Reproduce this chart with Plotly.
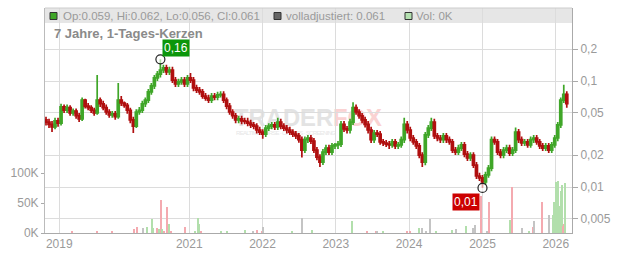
import base64
import math
import pandas as pd
import plotly.graph_objects as go

# ---------------- data ----------------
start_date = "2019-01-18"          # first candle (15-day aggregated candles)
first_open = 0.043

close = [0.041, 0.039, 0.0368, 0.042, 0.040, 0.057, 0.053, 0.056, 0.050, 0.052,
         0.047, 0.044, 0.066, 0.058, 0.056, 0.053, 0.050, 0.066, 0.061, 0.056,
         0.051, 0.048, 0.049, 0.046, 0.066, 0.062, 0.059, 0.053, 0.043, 0.0376,
         0.051, 0.053, 0.061, 0.066, 0.079, 0.090, 0.107, 0.116, 0.127, 0.133,
         0.122, 0.127, 0.102, 0.094, 0.098, 0.102, 0.094, 0.107, 0.102, 0.086,
         0.082, 0.079, 0.072, 0.069, 0.066, 0.072, 0.0706, 0.074, 0.075, 0.066,
         0.058, 0.051, 0.047, 0.043, 0.044, 0.042, 0.0415, 0.040, 0.0385, 0.0376,
         0.0345, 0.033, 0.0316, 0.036, 0.0376, 0.0385, 0.0368, 0.041, 0.0376, 0.036,
         0.0345, 0.033, 0.0316, 0.0303, 0.028, 0.0223, 0.028, 0.029, 0.0271, 0.0223,
         0.0191, 0.0172, 0.0213, 0.0233, 0.0213, 0.0244, 0.0250, 0.0254, 0.039, 0.0353,
         0.0345, 0.041, 0.056, 0.051, 0.047, 0.043, 0.039, 0.0345, 0.028, 0.0323,
         0.0316, 0.0266, 0.026, 0.0254, 0.025, 0.0266, 0.0244, 0.025, 0.028, 0.039,
         0.0345, 0.029, 0.0266, 0.0244, 0.020, 0.0172, 0.031, 0.036, 0.041, 0.0303,
         0.029, 0.028, 0.0303, 0.028, 0.0266, 0.0223, 0.0213, 0.0233, 0.025, 0.0204,
         0.0188, 0.020, 0.0161, 0.0127, 0.0122, 0.0112, 0.013, 0.0151, 0.028, 0.0266,
         0.0213, 0.020, 0.0223, 0.0233, 0.0209, 0.0223, 0.033, 0.028, 0.026, 0.0266,
         0.025, 0.028, 0.029, 0.0266, 0.0244, 0.0233, 0.0244, 0.0223, 0.025, 0.029,
         0.0385, 0.066, 0.075, 0.061]

high = [0.046, 0.044, 0.042, 0.045, 0.045, 0.061, 0.060, 0.060, 0.059, 0.055,
        0.055, 0.050, 0.070, 0.068, 0.062, 0.059, 0.056, 0.114, 0.070, 0.065,
        0.060, 0.054, 0.052, 0.052, 0.096, 0.072, 0.064, 0.062, 0.056, 0.046,
        0.054, 0.057, 0.065, 0.070, 0.084, 0.096, 0.114, 0.124, 0.160, 0.142,
        0.142, 0.136, 0.136, 0.109, 0.105, 0.109, 0.109, 0.114, 0.119, 0.109,
        0.092, 0.088, 0.084, 0.077, 0.074, 0.077, 0.077, 0.079, 0.080, 0.080,
        0.070, 0.062, 0.054, 0.050, 0.047, 0.047, 0.045, 0.045, 0.043, 0.041,
        0.040, 0.037, 0.035, 0.0385, 0.040, 0.041, 0.041, 0.045, 0.044, 0.040,
        0.0385, 0.037, 0.035, 0.0337, 0.0323, 0.030, 0.030, 0.031, 0.031, 0.029,
        0.0238, 0.0204, 0.0228, 0.025, 0.025, 0.026, 0.026, 0.0271, 0.042, 0.042,
        0.0376, 0.044, 0.063, 0.060, 0.054, 0.050, 0.046, 0.042, 0.037, 0.0345,
        0.0345, 0.0337, 0.0284, 0.0277, 0.0271, 0.0284, 0.0284, 0.0266, 0.030, 0.045,
        0.042, 0.037, 0.031, 0.0284, 0.026, 0.0213, 0.033, 0.0385, 0.045, 0.044,
        0.0323, 0.031, 0.0323, 0.0323, 0.030, 0.0284, 0.0238, 0.025, 0.0266, 0.0266,
        0.0218, 0.0213, 0.0213, 0.0172, 0.0136, 0.013, 0.0139, 0.0161, 0.030, 0.030,
        0.0284, 0.0228, 0.0238, 0.025, 0.025, 0.0238, 0.0365, 0.0353, 0.030, 0.0284,
        0.0284, 0.030, 0.031, 0.031, 0.0284, 0.026, 0.026, 0.026, 0.0266, 0.031,
        0.041, 0.070, 0.092, 0.080]

low = [0.038, 0.036, 0.033, 0.035, 0.037, 0.038, 0.050, 0.050, 0.047, 0.047,
       0.044, 0.041, 0.042, 0.055, 0.053, 0.050, 0.047, 0.048, 0.057, 0.053,
       0.048, 0.045, 0.045, 0.043, 0.044, 0.058, 0.056, 0.049, 0.040, 0.0323,
       0.036, 0.048, 0.050, 0.057, 0.062, 0.074, 0.084, 0.100, 0.108, 0.119,
       0.114, 0.114, 0.096, 0.088, 0.088, 0.092, 0.088, 0.088, 0.096, 0.080,
       0.077, 0.074, 0.068, 0.065, 0.062, 0.062, 0.066, 0.066, 0.070, 0.062,
       0.054, 0.048, 0.044, 0.040, 0.040, 0.039, 0.039, 0.0375, 0.036, 0.035,
       0.032, 0.031, 0.0285, 0.0296, 0.0337, 0.035, 0.0345, 0.0345, 0.035, 0.0337,
       0.032, 0.031, 0.0296, 0.0284, 0.0262, 0.019, 0.0209, 0.026, 0.0254, 0.0209,
       0.0179, 0.0154, 0.0161, 0.020, 0.020, 0.020, 0.0228, 0.0228, 0.0238, 0.033,
       0.032, 0.032, 0.0385, 0.048, 0.044, 0.040, 0.0365, 0.032, 0.026, 0.026,
       0.0296, 0.025, 0.0244, 0.0238, 0.0228, 0.0234, 0.0228, 0.0228, 0.0234, 0.026,
       0.032, 0.027, 0.025, 0.0228, 0.0187, 0.0154, 0.016, 0.029, 0.0337, 0.0284,
       0.027, 0.026, 0.026, 0.026, 0.025, 0.0209, 0.020, 0.020, 0.0218, 0.0191,
       0.0176, 0.0176, 0.0151, 0.0119, 0.0114, 0.0098, 0.0105, 0.0122, 0.0141, 0.025,
       0.020, 0.0187, 0.0187, 0.0209, 0.0196, 0.0196, 0.0209, 0.026, 0.0244, 0.0244,
       0.0234, 0.0234, 0.026, 0.025, 0.0228, 0.0218, 0.0218, 0.0209, 0.0209, 0.0234,
       0.027, 0.036, 0.062, 0.056]

vol_dates = ["2019-05-27", "2019-09-29", "2019-12-13", "2020-03-31", "2020-04-15",
             "2020-05-15", "2020-06-04", "2020-06-29", "2020-07-04", "2020-07-24",
             "2020-07-29", "2020-08-03", "2020-08-13", "2020-08-18", "2020-08-28",
             "2020-09-12", "2020-09-22", "2020-10-02", "2020-12-11", "2021-01-29",
             "2021-02-13", "2021-02-18", "2021-02-28", "2021-06-08", "2021-07-08",
             "2021-10-06", "2021-11-14", "2021-12-04", "2021-12-29", "2022-01-03",
             "2022-05-29", "2022-07-17", "2022-09-04", "2023-03-23", "2023-06-06",
             "2023-07-21", "2023-07-26", "2023-08-24", "2023-12-22", "2024-01-06",
             "2024-02-20", "2024-03-06", "2024-03-26", "2024-04-15", "2024-05-15",
             "2024-08-02", "2024-08-22", "2024-10-11", "2024-11-15", "2024-11-25",
             "2024-12-25", "2025-01-24", "2025-02-03", "2025-05-18", "2025-05-28",
             "2025-07-17", "2025-08-21", "2025-09-10", "2025-09-15", "2025-10-25",
             "2025-11-29", "2025-12-19", "2025-12-24", "2025-12-29", "2026-01-03",
             "2026-01-08", "2026-01-13", "2026-01-18", "2026-01-22", "2026-01-27",
             "2026-02-01", "2026-02-06", "2026-02-11", "2026-02-16"]
vol_values = [2000, 4000, 3000, 7000, 10000, 8000, 10000, 23000, 9000, 9000,
              5000, 6000, 55000, 6000, 3000, 43000, 15000, 3000, 10000, 2000,
              25000, 15000, 2000, 4000, 2000, 5000, 2000, 5000, 2000, 10000,
              2000, 25000, 5000, 20000, 3000, 3000, 3000, 3000, 3000, 3000,
              9000, 8000, 4000, 23000, 4000, 5000, 6000, 12000, 8000, 13000,
              61000, 2000, 52000, 21000, 77000, 9000, 3000, 10000, 20000, 51000,
              30000, 30000, 52000, 40000, 85000, 60000, 87000, 35000, 45000, 70000,
              80000, 12000, 15000, 83000]
vol_dir = ["d", "d", "d", "d", "d", "n", "u", "u", "u", "d",
           "d", "u", "d", "u", "d", "d", "u", "d", "d", "u",
           "u", "u", "d", "u", "u", "u", "n", "d", "d", "n",
           "u", "n", "u", "u", "d", "d", "n", "u", "d", "d",
           "u", "n", "n", "n", "u", "u", "n", "u", "n", "n",
           "d", "n", "d", "u", "d", "n", "u", "d", "n", "d",
           "n", "u", "u", "u", "u", "u", "u", "u", "u", "u",
           "u", "d", "d", "u"]

year_ticks = ["2019-03-25", "2021-01-01", "2022-01-01", "2023-01-01",
              "2024-01-01", "2025-01-01", "2026-01-01"]
year_labels = ["2019", "2021", "2022", "2023", "2024", "2025", "2026"]
price_ticks = [0.005, 0.01, 0.02, 0.05, 0.1, 0.2]
vol_ticks = [0, 50000, 100000]
vol_labels = ["0K", "50K", "100K"]

legend_text = "Op:0.059, Hi:0.062, Lo:0.056, Cl:0.061"
adj_text = "volladjustiert: 0.061"
vol_text = "Vol: 0K"
title_text = "7 Jahre, 1-Tages-Kerzen"

# ---------------- styling ----------------
FONT = "Liberation Sans, Arial, sans-serif"
GREEN = "#3fa628"
RED = "#b00f0f"
VCOL = {"u": "#b2dfac", "d": "#f4aab0", "n": "#c4c4c4"}
GRID = "#dcdcdc"
TXT = "#9a9a9a"

dates = pd.date_range(start_date, periods=len(close), freq="15D")
opens = [first_open] + close[:-1]

fig = go.Figure()

fig.add_bar(x=pd.to_datetime(vol_dates), y=vol_values,
            marker=dict(color=[VCOL[d] for d in vol_dir], line=dict(width=0)),
            width=4.0 * 86400000, yaxis="y", hoverinfo="skip", showlegend=False)

fig.add_candlestick(x=dates, open=opens, high=high, low=low, close=close,
                    yaxis="y2", whiskerwidth=0, showlegend=False,
                    increasing=dict(line=dict(color=GREEN, width=1.7), fillcolor=GREEN),
                    decreasing=dict(line=dict(color=RED, width=1.7), fillcolor=RED))

imax = max(range(len(high)), key=lambda i: high[i])
imin = min(range(len(low)), key=lambda i: low[i])
fig.add_scatter(x=[dates[imax], dates[imin]], y=[high[imax], low[imin]], yaxis="y2",
                mode="markers", showlegend=False, hoverinfo="skip",
                marker=dict(symbol="circle", size=9, color="rgba(255,255,255,0.6)",
                            line=dict(color="#222", width=1.2)))

# plot area geometry (px): left 45, right 572, top 8, bottom 233
W, H = 632, 253
L, R, T, B = 45, 60, 8, 20
PW, PH = W - L - R, H - T - B


def px(x):
    return (x - L) / PW


def py(y):
    return (H - B - y) / PH


shapes = [
    dict(type="rect", xref="paper", yref="paper", x0=0, x1=1, y0=py(23), y1=1,
         fillcolor="#e6e6e6", line=dict(width=0), layer="below"),
    dict(type="line", xref="paper", yref="paper", x0=0, x1=1, y0=1, y1=1,
         line=dict(color="#cccccc", width=1)),
]
for (x0, fill) in [(50, GREEN), (274, "#666666"), (405, "#b4e0b0")]:
    shapes.append(dict(type="rect", xref="paper", yref="paper",
                       x0=px(x0), x1=px(x0 + 7), y0=py(19.5), y1=py(12.5),
                       fillcolor=fill, line=dict(color="#333", width=1)))

ann = [
    dict(text=legend_text, x=px(61), y=py(16), xref="paper", yref="paper",
         xanchor="left", yanchor="middle", showarrow=False,
         font=dict(family=FONT, size=11.5, color=TXT)),
    dict(text=adj_text, x=px(284), y=py(16), xref="paper", yref="paper",
         xanchor="left", yanchor="middle", showarrow=False,
         font=dict(family=FONT, size=11.5, color=TXT)),
    dict(text=vol_text, x=px(414), y=py(16), xref="paper", yref="paper",
         xanchor="left", yanchor="middle", showarrow=False,
         font=dict(family=FONT, size=11.5, color=TXT)),
    dict(text="<b>" + title_text + "</b>", x=px(52), y=py(34), xref="paper", yref="paper",
         xanchor="left", yanchor="middle", showarrow=False,
         font=dict(family=FONT, size=13, color="#8a8a8a")),
    dict(text=f"{high[imax]:.2f}".replace(".", ","), x=dates[imax],
         y=math.log10(high[imax]), xref="x", yref="y2", xanchor="left", yanchor="bottom",
         xshift=2, yshift=2, showarrow=False, bgcolor="#0b960b", borderpad=1,
         font=dict(family=FONT, size=12, color="white")),
    dict(text=f"{low[imin]:.2f}".replace(".", ","), x=dates[imin],
         y=math.log10(low[imin]), xref="x", yref="y2", xanchor="right", yanchor="top",
         xshift=-2, yshift=-5, showarrow=False, bgcolor="#cc0000", borderpad=1,
         font=dict(family=FONT, size=12, color="white")),
]

svg = ('<svg xmlns="http://www.w3.org/2000/svg" width="150" height="30">'
       '<text x="0" y="19" font-family="Liberation Sans, Arial" font-weight="bold" '
       'font-size="24" fill="#e3e3e3" textLength="148" lengthAdjust="spacingAndGlyphs">TRADER'
       '<tspan fill="#fad2d2">FOX</tspan></text>'
       '<text x="2" y="28" font-family="Liberation Sans, Arial" font-size="6" '
       'fill="#e6e6e6" textLength="100">REALTIME-KURSE · CHARTS · SCREENING</text></svg>')
img = "data:image/svg+xml;base64," + base64.b64encode(svg.encode("utf-8")).decode()

fig.update_layout(
    width=W, height=H,
    margin=dict(l=L, r=R, t=T, b=B, pad=0, autoexpand=False),
    paper_bgcolor="white", plot_bgcolor="white",
    showlegend=False, bargap=0, boxgap=0.05,
    font=dict(family=FONT, size=12, color=TXT),
    shapes=shapes, annotations=ann,
    images=[dict(source=img, xref="paper", yref="paper", x=px(234), y=py(107),
                 sizex=150 / PW, sizey=30 / PH, sizing="stretch",
                 xanchor="left", yanchor="top", layer="below")],
    xaxis=dict(type="date", range=["2019-01-13", "2026-03-23"], automargin=False,
               tickvals=year_ticks, ticktext=year_labels,
               showgrid=True, gridcolor=GRID, gridwidth=1,
               showline=True, linecolor="#aaaaaa", linewidth=1,
               ticks="", zeroline=False, rangeslider=dict(visible=False),
               tickfont=dict(family=FONT, size=12, color=TXT)),
    yaxis=dict(range=[0, 375000], side="left", tickvals=vol_ticks, ticktext=vol_labels,
               automargin=False,
               showgrid=False, zeroline=False, showline=True, linecolor="#bbbbbb",
               ticks="outside", ticklen=3, tickcolor="#aaaaaa",
               tickfont=dict(family=FONT, size=12, color=TXT)),
    yaxis2=dict(type="log", overlaying="y", side="right", automargin=False,
                range=[math.log10(0.1) - 152 / 106, math.log10(0.1) + 73 / 106],
                tickvals=price_ticks,
                ticktext=[f"{v:g}".replace(".", ",") for v in price_ticks],
                showgrid=True, gridcolor=GRID, gridwidth=1, zeroline=False,
                showline=True, linecolor="#aaaaaa", ticks="outside", ticklen=5,
                tickcolor="#aaaaaa", tickfont=dict(family=FONT, size=12, color=TXT)),
)

fig.write_html("out.html")
